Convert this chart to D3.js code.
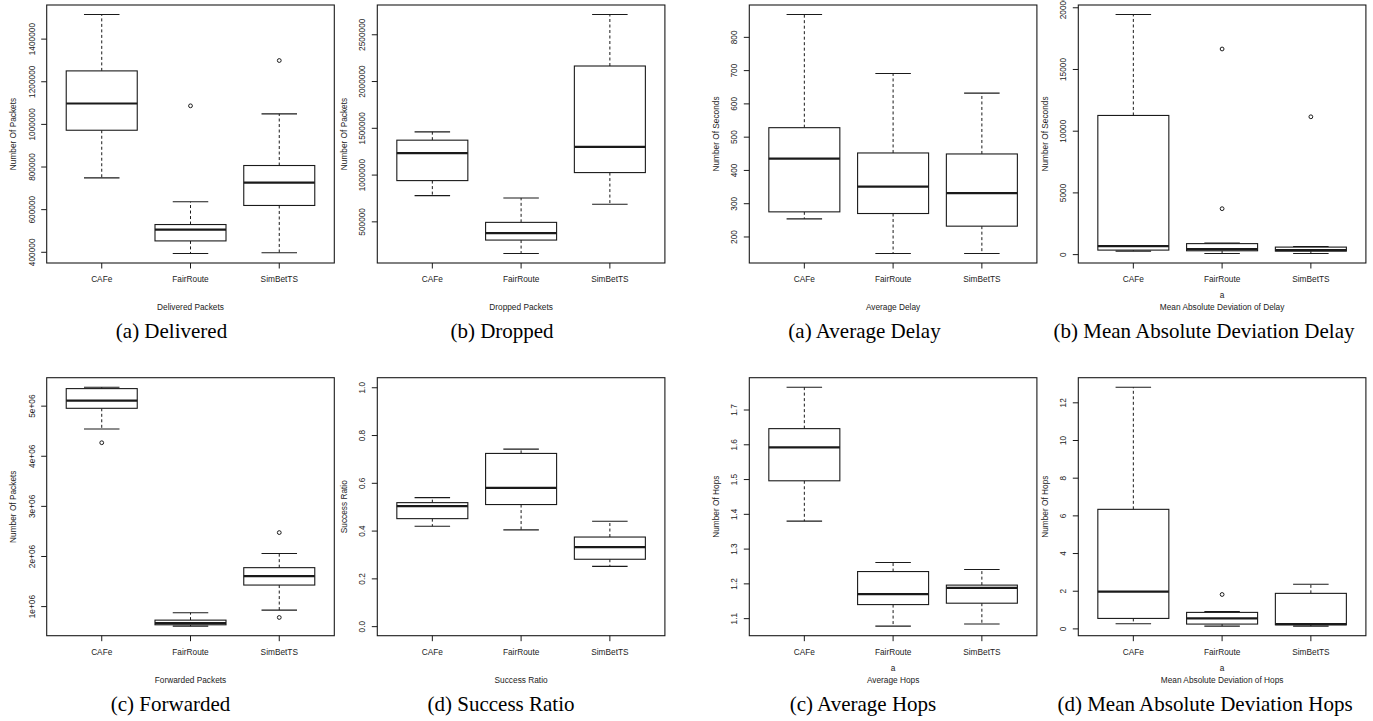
<!DOCTYPE html>
<html>
<head>
<meta charset="utf-8">
<script src="https://cdn.jsdelivr.net/npm/d3@7"></script>
<style>
  html, body { margin: 0; padding: 0; background: #fff; }
  svg { display: block; }
</style>
</head>
<body>
<div id="chart"></div>
<script>
// Groups on every x axis
const groups = ['CAFe', 'FairRoute', 'SimBetTS'];

// Box stats per group: [lower whisker, Q1, median, Q3, upper whisker]
const deliveredStats = [[746700, 970200, 1095700, 1248600, 1512900], [392200, 451000, 504300, 527800, 634500], [395300, 617300, 724700, 804700, 1047000]];
const deliveredOut = [[], [1084700], [1297300]];
const deliveredTicks = [400000, 600000, 800000, 1000000, 1200000, 1400000];

const droppedStats = [[775000, 935700, 1228600, 1367900, 1457000], [157000, 300000, 375000, 489300, 750000], [682100, 1021400, 1296400, 2160700, 2710700]];
const droppedOut = [[], [], []];
const droppedTicks = [500000, 1000000, 1500000, 2000000, 2500000];

const forwardedStats = [[4533000, 4947000, 5100000, 5340000, 5367000], [600000, 627000, 660000, 720000, 867000], [920000, 1420000, 1600000, 1767000, 2050000]];
const forwardedOut = [[4260000], [], [773000, 2467000]];
const forwardedTicks = [1e6, 2e6, 3e6, 4e6, 5e6];
const forwardedLabels = ['1e+06', '2e+06', '3e+06', '4e+06', '5e+06'];

const ratioStats = [[0.418, 0.45, 0.502, 0.517, 0.538], [0.403, 0.509, 0.579, 0.723, 0.741], [0.25, 0.28, 0.331, 0.373, 0.439]];
const ratioOut = [[], [], []];
const ratioTicks = [0, 0.2, 0.4, 0.6, 0.8, 1.0];
const ratioLimits = [0, 1];

const delayStats = [[253, 274, 434, 527, 867], [149, 269, 350, 451, 690], [149, 231, 330, 448, 631]];
const delayOut = [[], [], []];
const delayTicks = [200, 300, 400, 500, 600, 700, 800];

const delayMadStats = [[245, 325, 650, 11235, 19410], [54, 270, 406, 850, 900], [54, 244, 325, 568, 620]];
const delayMadOut = [[], [3680, 16620], [11127]];
const delayMadTicks = [0, 5000, 10000, 15000, 20000];

const hopsStats = [[1.379, 1.495, 1.591, 1.645, 1.764], [1.077, 1.139, 1.169, 1.234, 1.26], [1.083, 1.143, 1.187, 1.195, 1.24]];
const hopsOut = [[], [], []];
const hopsTicks = [1.1, 1.2, 1.3, 1.4, 1.5, 1.6, 1.7];

const hopsMadStats = [[0.25, 0.53, 1.95, 6.32, 12.8], [0.12, 0.23, 0.53, 0.85, 0.9], [0.12, 0.19, 0.23, 1.86, 2.34]];
const hopsMadOut = [[], [1.8], []];
const hopsMadTicks = [0, 2, 4, 6, 8, 10, 12];

// Panel layout (pixels)
const colLeft = [46.7, 377.3, 749.3, 1078.3];
const rowTop = [5, 377.7];
const boxW = 287.6;
const boxH = 258;
const captionY = [338, 711];

const panels = [
  { stats: deliveredStats, out: deliveredOut, ticks: deliveredTicks, ylab: 'Number Of Packets', xlab: ['Delivered Packets'], caption: '(a) Delivered', col: 0, row: 0, cx: 171.5 },
  { stats: droppedStats, out: droppedOut, ticks: droppedTicks, ylab: 'Number Of Packets', xlab: ['Dropped Packets'], caption: '(b) Dropped', col: 1, row: 0, cx: 502 },
  { stats: delayStats, out: delayOut, ticks: delayTicks, ylab: 'Number Of Seconds', xlab: ['Average Delay'], caption: '(a) Average Delay', col: 2, row: 0, cx: 864.5 },
  { stats: delayMadStats, out: delayMadOut, ticks: delayMadTicks, ylab: 'Number Of Seconds', xlab: ['a', 'Mean Absolute Deviation of Delay'], caption: '(b) Mean Absolute Deviation Delay', col: 3, row: 0, cx: 1204 },
  { stats: forwardedStats, out: forwardedOut, ticks: forwardedTicks, labels: forwardedLabels, ylab: 'Number Of Packets', xlab: ['Forwarded Packets'], caption: '(c) Forwarded', col: 0, row: 1, cx: 170.5 },
  { stats: ratioStats, out: ratioOut, ticks: ratioTicks, labels: ratioTicks.map(d => d.toFixed(1)), limits: ratioLimits, ylab: 'Success Ratio', xlab: ['Success Ratio'], caption: '(d) Success Ratio', col: 1, row: 1, cx: 501 },
  { stats: hopsStats, out: hopsOut, ticks: hopsTicks, labels: hopsTicks.map(d => d.toFixed(1)), ylab: 'Number Of Hops', xlab: ['a', 'Average Hops'], caption: '(c) Average Hops', col: 2, row: 1, cx: 863 },
  { stats: hopsMadStats, out: hopsMadOut, ticks: hopsMadTicks, ylab: 'Number Of Hops', xlab: ['a', 'Mean Absolute Deviation of Hops'], caption: '(d) Mean Absolute Deviation Hops', col: 3, row: 1, cx: 1205 }
];

const width = 1373, height = 721;
const ink = '#1a1a1a';
const sans = '"Liberation Sans", Arial, Helvetica, sans-serif';
const serif = '"Liberation Serif", "Times New Roman", Times, serif';
const fs = 8.3;

const svg = d3.select('#chart').append('svg')
  .attr('width', width)
  .attr('height', height)
  .attr('viewBox', `0 0 ${width} ${height}`);

svg.append('rect').attr('width', width).attr('height', height).attr('fill', '#fff');

panels.forEach(p => {
  const left = colLeft[p.col];
  const top = rowTop[p.row];
  const bottom = top + boxH;

  // R style limits: data range stretched by 4% each side
  let lo, hi;
  if (p.limits) {
    [lo, hi] = p.limits;
  } else {
    const all = p.stats.flat().concat(p.out.flat());
    lo = d3.min(all);
    hi = d3.max(all);
  }
  const pad = (hi - lo) * 0.04;

  const y = d3.scaleLinear().domain([lo - pad, hi + pad]).range([bottom, top]);
  const x = d3.scaleBand().domain(groups).range([left, left + boxW])
    .paddingInner(0).paddingOuter(0.12);
  const bw = x.step() * 0.8;

  const g = svg.append('g');

  // Frame
  g.append('rect')
    .attr('x', left).attr('y', top)
    .attr('width', boxW).attr('height', boxH)
    .attr('fill', 'none').attr('stroke', ink).attr('stroke-width', 1.1);

  // Y axis
  const yAxis = d3.axisLeft(y)
    .tickValues(p.ticks)
    .tickSize(5.5)
    .tickFormat((d, i) => p.labels ? p.labels[i] : d3.format('d')(d));
  const ya = g.append('g')
    .attr('transform', `translate(${left},0)`)
    .call(yAxis);
  ya.select('.domain').remove();
  ya.selectAll('.tick line').attr('stroke', ink).attr('stroke-width', 1);
  ya.selectAll('.tick text')
    .attr('x', null).attr('dy', null)
    .attr('transform', 'translate(-12,0) rotate(-90)')
    .attr('text-anchor', 'middle')
    .attr('font-family', sans).attr('font-size', fs).attr('fill', '#222');

  // X axis
  const xa = g.append('g')
    .attr('transform', `translate(0,${bottom})`)
    .call(d3.axisBottom(x).tickSize(5.5));
  xa.select('.domain').remove();
  xa.selectAll('.tick line').attr('stroke', ink).attr('stroke-width', 1);
  xa.selectAll('.tick text')
    .attr('y', 16).attr('dy', '0.35em')
    .attr('font-family', sans).attr('font-size', fs).attr('fill', '#222');

  // Boxes
  const bx = g.selectAll('.bx')
    .data(p.stats.map((s, i) => ({ name: groups[i], s: s, out: p.out[i] })))
    .enter().append('g')
    .attr('class', 'bx');

  bx.each(function (d) {
    const sel = d3.select(this);
    const cx = x(d.name) + x.bandwidth() / 2;
    const [wl, q1, md, q3, wh] = d.s;

    // whiskers
    sel.append('line')
      .attr('x1', cx).attr('x2', cx).attr('y1', y(q3)).attr('y2', y(wh))
      .attr('stroke', ink).attr('stroke-width', 1).attr('stroke-dasharray', '3,2.5');
    sel.append('line')
      .attr('x1', cx).attr('x2', cx).attr('y1', y(q1)).attr('y2', y(wl))
      .attr('stroke', ink).attr('stroke-width', 1).attr('stroke-dasharray', '3,2.5');

    // staples
    [wl, wh].forEach(v => {
      sel.append('line')
        .attr('x1', cx - bw / 4).attr('x2', cx + bw / 4)
        .attr('y1', y(v)).attr('y2', y(v))
        .attr('stroke', ink).attr('stroke-width', 1.1);
    });

    // box
    sel.append('rect')
      .attr('x', cx - bw / 2).attr('width', bw)
      .attr('y', y(q3)).attr('height', Math.max(0.5, y(q1) - y(q3)))
      .attr('fill', '#fff').attr('stroke', ink).attr('stroke-width', 1.1);

    // median
    sel.append('line')
      .attr('x1', cx - bw / 2).attr('x2', cx + bw / 2)
      .attr('y1', y(md)).attr('y2', y(md))
      .attr('stroke', ink).attr('stroke-width', 2.2);

    // outliers
    sel.selectAll('circle')
      .data(d.out)
      .enter().append('circle')
      .attr('cx', cx).attr('cy', v => y(v)).attr('r', 1.9)
      .attr('fill', 'none').attr('stroke', ink).attr('stroke-width', 1);
  });

  // Y label
  g.append('text')
    .attr('transform', `translate(${left - 30.5},${top + boxH / 2}) rotate(-90)`)
    .attr('text-anchor', 'middle')
    .attr('font-family', sans).attr('font-size', fs).attr('fill', '#222')
    .text(p.ylab);

  // X title (one or two lines)
  const n = p.xlab.length;
  p.xlab.forEach((t, i) => {
    g.append('text')
      .attr('x', left + boxW / 2)
      .attr('y', bottom + 44 - (n - 1 - i) * 12)
      .attr('dy', '0.35em')
      .attr('text-anchor', 'middle')
      .attr('font-family', sans).attr('font-size', fs).attr('fill', '#222')
      .text(t);
  });

  // Caption
  svg.append('text')
    .attr('x', p.cx)
    .attr('y', captionY[p.row])
    .attr('text-anchor', 'middle')
    .attr('font-family', serif).attr('font-size', 21).attr('fill', '#000')
    .text(p.caption);
});
</script>
</body>
</html>
